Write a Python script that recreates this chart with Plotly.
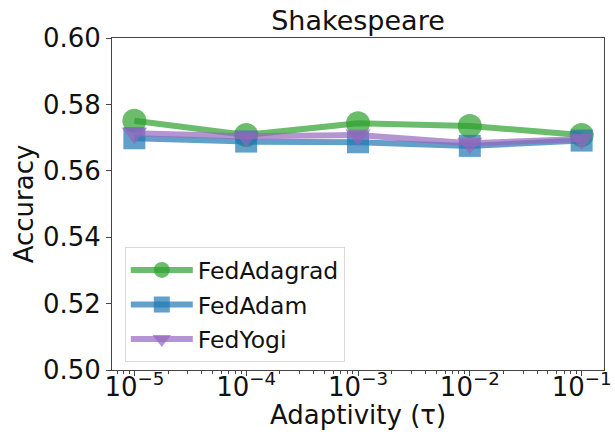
import plotly.graph_objects as go

# Adaptivity parameter tau and accuracy per optimizer
tau = [1e-5, 1e-4, 1e-3, 1e-2, 1e-1]
tick_labels = ["10<sup>\u22125</sup>", "10<sup>\u22124</sup>", "10<sup>\u22123</sup>",
               "10<sup>\u22122</sup>", "10<sup>\u22121</sup>"]
fedadagrad = [0.5751, 0.5708, 0.5743, 0.5735, 0.5708]
fedadam = [0.5698, 0.5688, 0.5686, 0.5675, 0.5691]
fedyogi = [0.5713, 0.5704, 0.5708, 0.5683, 0.5696]
y_ticks = [0.50, 0.52, 0.54, 0.56, 0.58, 0.60]

# log minor ticks at 2..9 within each decade of the visible range
minor_vals = [m * 10.0 ** e for e in range(-6, 0) for m in range(2, 10)]

FONT = "DejaVu Sans"
W, H = 615, 439
L, R, T, B = 112, 11, 38, 69
PLOT_H = H - T - B

series = [
    ("FedAdagrad", fedadagrad, "rgba(44,160,44,0.7)", "circle", 24),
    ("FedAdam", fedadam, "rgba(31,119,180,0.7)", "square", 22),
    ("FedYogi", fedyogi, "rgba(148,103,189,0.7)", "triangle-down", 22),
]

fig = go.Figure()
for name, vals, color, sym, size in series:
    fig.add_trace(go.Scatter(
        x=tau, y=vals, name=name, legendgroup=name,
        mode="lines+markers",
        line=dict(color=color, width=6),
        marker=dict(color=color, symbol=sym, size=size, line=dict(width=0)),
    ))

axis_line = dict(showline=True, linecolor="#444", linewidth=1, mirror=True,
                 showgrid=False, zeroline=False, ticks="outside",
                 tickcolor="#444", ticklen=5, tickwidth=1,
                 tickfont=dict(family=FONT, size=26, color="#111"))

fig.update_xaxes(
    type="log", range=[-5.2, -0.8],
    tickvals=tau, ticktext=tick_labels,
    ticklabelstandoff=-11,
    minor=dict(tickmode="array", tickvals=minor_vals, ticks="outside",
               ticklen=3, tickcolor="#444", tickwidth=1),
    **axis_line,
)
fig.update_yaxes(
    range=[0.50, 0.60], tickvals=y_ticks, tickformat=".2f",
    title=dict(text="Accuracy", font=dict(family=FONT, size=26, color="#111"),
               standoff=1),
    **axis_line,
)

# x-axis label placed just under the tick labels
fig.add_annotation(
    text="Adaptivity (\u03c4)", xref="paper", yref="paper",
    x=0.5, y=-45 / PLOT_H, xanchor="center", yanchor="middle",
    showarrow=False, font=dict(family=FONT, size=26, color="#111"),
)

fig.update_layout(
    width=W, height=H,
    margin=dict(l=L, r=R, t=T, b=B, autoexpand=False),
    paper_bgcolor="white", plot_bgcolor="white",
    title=dict(text="Shakespeare", x=0.5, xref="paper", xanchor="center",
               y=1 - 21 / H, yanchor="middle",
               font=dict(family=FONT, size=27, color="#111")),
    legend=dict(
        x=0.026, y=0.37, xanchor="left", yanchor="top",
        bgcolor="white", bordercolor="#d9d9d9", borderwidth=1,
        font=dict(family=FONT, size=23.5, color="#111"),
        tracegroupgap=1, itemwidth=62,
    ),
    showlegend=True,
)

fig.write_html("out.html")
